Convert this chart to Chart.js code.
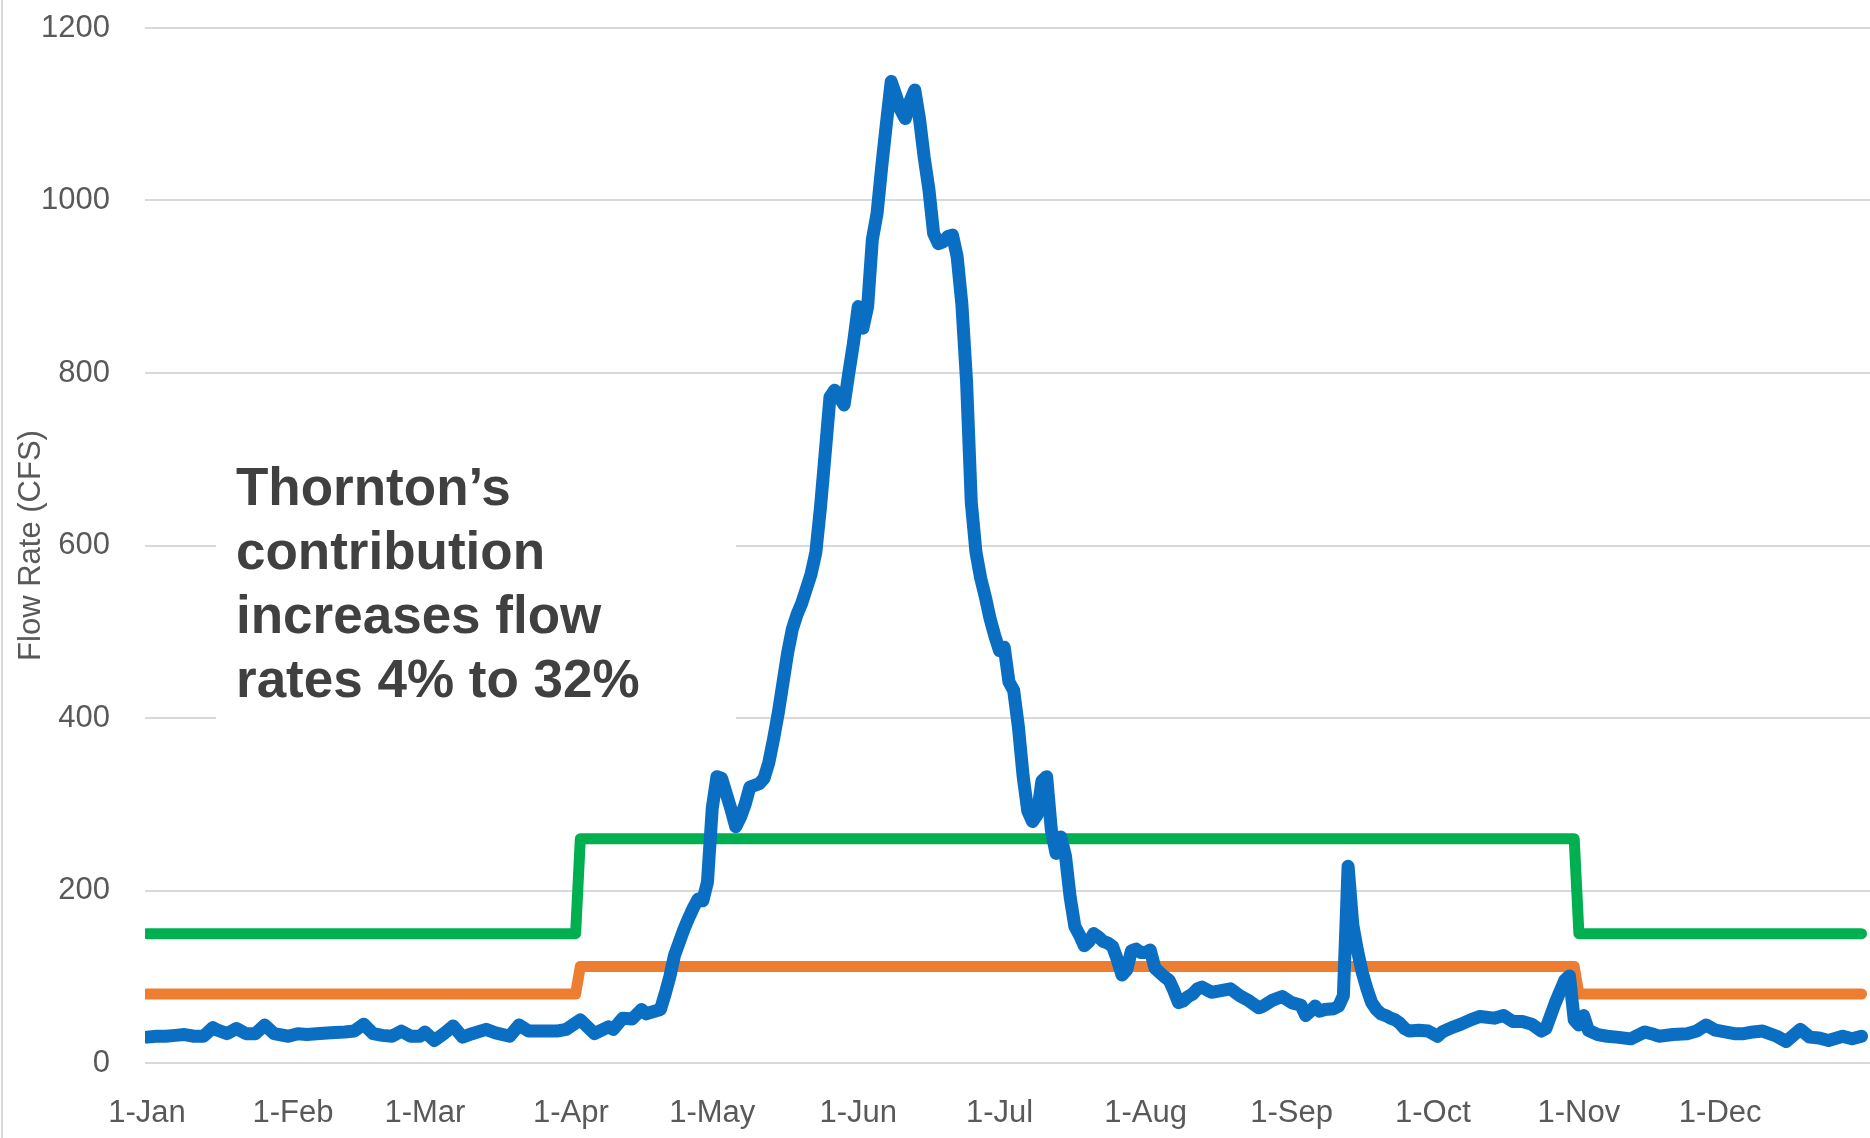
<!DOCTYPE html>
<html>
<head>
<meta charset="utf-8">
<script src="https://cdn.jsdelivr.net/npm/chart.js@4"></script>
<style>
  html, body { margin: 0; padding: 0; background: #fff; overflow: hidden; }
  canvas { display: block; }
</style>
</head>
<body>
<canvas id="flowChart" width="1870" height="1138"></canvas>
<script>
// Month-start positions (day of year, 0 = 1 Jan) and their axis labels
const monthDays = [0, 31, 59, 90, 120, 151, 181, 212, 243, 273, 304, 334];
const monthLabels = ['1-Jan', '1-Feb', '1-Mar', '1-Apr', '1-May', '1-Jun',
                     '1-Jul', '1-Aug', '1-Sep', '1-Oct', '1-Nov', '1-Dec'];
const yTicks = [0, 200, 400, 600, 800, 1000, 1200];

// Daily river flow (CFS), sampled by day of year
const flowDays = [0, 2, 4, 6, 8, 10, 12, 14, 15, 17, 19, 21, 23, 25, 27, 30, 32, 34, 36, 39,
  42, 44, 46, 48, 50, 52, 54, 56, 58, 59, 61, 63, 65, 67, 69, 72, 74, 77, 79, 81,
  84, 87, 89, 92, 95, 98, 99, 101, 103, 105, 106, 109, 110, 111, 112, 113, 114, 115, 116, 117,
  118, 119, 120, 121, 122, 123, 124, 125, 126, 127, 128, 129, 130, 131, 132, 133, 134, 135, 136, 137,
  138, 139, 140, 141, 142, 143, 144, 145, 146, 147, 148, 149, 150, 151, 152, 153, 154, 155, 156, 157,
  158, 159, 160, 161, 162, 163, 164, 165, 166, 167, 168, 169, 170, 171, 172, 173, 174, 175, 176, 177,
  178, 179, 180, 181, 182, 183, 184, 185, 186, 187, 188, 189, 190, 191, 192, 193, 194, 195, 196, 197,
  198, 199, 200, 201, 202, 203, 204, 205, 206, 207, 208, 209, 210, 211, 212, 213, 214, 215, 216, 217,
  218, 219, 220, 221, 222, 223, 224, 225, 226, 228, 230, 232, 234, 236, 237, 239, 241, 243, 245, 246,
  247, 248, 249, 250, 252, 253, 254, 255, 256, 257, 258, 259, 260, 261, 262, 263, 264, 265, 266, 267,
  268, 270, 272, 274, 275, 277, 279, 281, 283, 286, 288, 290, 292, 294, 296, 297, 299, 301, 302, 303,
  304, 305, 306, 308, 310, 312, 315, 318, 320, 321, 324, 327, 329, 331, 333, 335, 337, 339, 341, 343,
  346, 348, 351, 353, 355, 357, 360, 362, 364];
const flowCfs = [30, 31, 31, 32, 33, 31, 31, 41, 38, 34, 40, 34, 34, 44, 34, 31, 34, 33, 34, 35,
  36, 37, 45, 34, 32, 31, 37, 31, 31, 36, 26, 34, 43, 30, 34, 39, 35, 31, 44, 37,
  37, 37, 39, 50, 34, 42, 39, 52, 51, 62, 57, 62, 80, 100, 125, 140, 155, 168, 180, 190,
  188, 210, 295, 332, 330, 312, 294, 274, 285, 300, 320, 322, 324, 330, 348, 375, 405, 440, 475, 503,
  520, 533, 550, 567, 592, 645, 708, 772, 780, 772, 763, 800, 835, 877, 852, 877, 955, 985, 1040, 1090,
  1138, 1122, 1105, 1095, 1115, 1128, 1095, 1050, 1013, 962, 950, 952, 958, 960, 935, 880, 790, 650, 592, 562,
  540, 515, 495, 478, 482, 442, 432, 390, 333, 292, 280, 288, 327, 332, 270, 243, 262, 240, 192, 158,
  148, 136, 141, 150, 146, 141, 139, 135, 120, 102, 108, 130, 132, 128, 128, 131, 110, 105, 100, 96,
  84, 70, 72, 77, 80, 86, 88, 85, 82, 84, 86, 78, 72, 64, 66, 73, 77, 70, 67, 55,
  60, 66, 60, 62, 63, 66, 78, 228, 160, 130, 105, 86, 70, 62, 57, 55, 52, 50, 46, 40,
  37, 38, 37, 31, 36, 41, 45, 50, 54, 52, 55, 48, 48, 45, 37, 40, 70, 96, 101, 50,
  44, 55, 38, 33, 31, 30, 28, 36, 33, 31, 33, 34, 37, 44, 38, 36, 34, 34, 36, 37,
  31, 25, 39, 30, 29, 26, 31, 28, 31];

// Seasonal flow targets (CFS)
const targetDays = [0, 91, 92, 303, 304, 364];
const upperTarget = [150, 150, 260, 260, 150, 150];
const lowerTarget = [80, 80, 112, 112, 80, 80];

const noteLines = ['Thornton\u2019s', 'contribution', 'increases flow', 'rates 4% to 32%'];

const toPoints = (xs, ys) => xs.map((d, i) => ({ x: d, y: ys[i] }));

Chart.defaults.font.family = "'Liberation Sans', Arial, sans-serif";

// White callout with the bold note, drawn over the grid but under the lines
const notePlugin = {
  id: 'note',
  beforeDatasetsDraw(chart) {
    const ctx = chart.ctx;
    ctx.save();
    ctx.fillStyle = '#ffffff';
    ctx.fillRect(216, 440, 520, 300);
    ctx.fillStyle = '#404040';
    ctx.font = "bold 53px 'Liberation Sans', Arial, sans-serif";
    ctx.textBaseline = 'alphabetic';
    ctx.textAlign = 'left';
    noteLines.forEach((t, i) => ctx.fillText(t, 236, 505 + i * 64));
    ctx.restore();
  },
  afterDraw(chart) {
    const ctx = chart.ctx;
    ctx.save();
    ctx.fillStyle = '#d9d9d9';
    ctx.fillRect(1, 0, 2, chart.height);
    ctx.restore();
  }
};

const lineStyle = {
  pointRadius: 0,
  pointHoverRadius: 0,
  tension: 0,
  borderJoinStyle: 'round',
  borderCapStyle: 'round',
  fill: false
};

new Chart(document.getElementById('flowChart'), {
  type: 'line',
  data: {
    datasets: [
      Object.assign({ label: 'Flow', data: toPoints(flowDays, flowCfs), borderColor: '#0a6fc2', borderWidth: 13 }, lineStyle),
      Object.assign({ label: 'Lower target', data: toPoints(targetDays, lowerTarget), borderColor: '#ed7d31', borderWidth: 11 }, lineStyle),
      Object.assign({ label: 'Upper target', data: toPoints(targetDays, upperTarget), borderColor: '#00b050', borderWidth: 11 }, lineStyle)
    ]
  },
  options: {
    responsive: false,
    animation: false,
    events: [],
    layout: { padding: { top: 28, left: 0, right: 0, bottom: 0 } },
    plugins: { legend: { display: false }, tooltip: { enabled: false } },
    scales: {
      x: {
        type: 'linear',
        min: -0.42,
        max: 365.8,
        grid: { display: false },
        border: { display: false },
        afterBuildTicks: s => { s.ticks = monthDays.map(v => ({ value: v })); },
        ticks: {
          autoSkip: false,
          maxRotation: 0,
          padding: 24,
          color: '#595959',
          font: { size: 31 },
          callback: v => { const i = monthDays.indexOf(v); return i >= 0 ? monthLabels[i] : ''; }
        },
        afterFit: s => { s.height = 75; s.paddingLeft = 0; s.paddingRight = 0; }
      },
      y: {
        min: 0,
        max: 1200,
        afterBuildTicks: s => { s.ticks = yTicks.map(v => ({ value: v })); },
        grid: { color: '#d9d9d9', lineWidth: 2, drawTicks: false },
        border: { display: false },
        ticks: { padding: 35, color: '#595959', font: { size: 31 }, callback: v => String(v) },
        title: {
          display: true,
          text: 'Flow Rate (CFS)',
          color: '#595959',
          font: { size: 31 },
          padding: { top: 13, bottom: 0 }
        },
        afterFit: s => { s.width = 145; s.paddingTop = 0; s.paddingBottom = 0; }
      }
    }
  },
  plugins: [notePlugin]
});
</script>
</body>
</html>
